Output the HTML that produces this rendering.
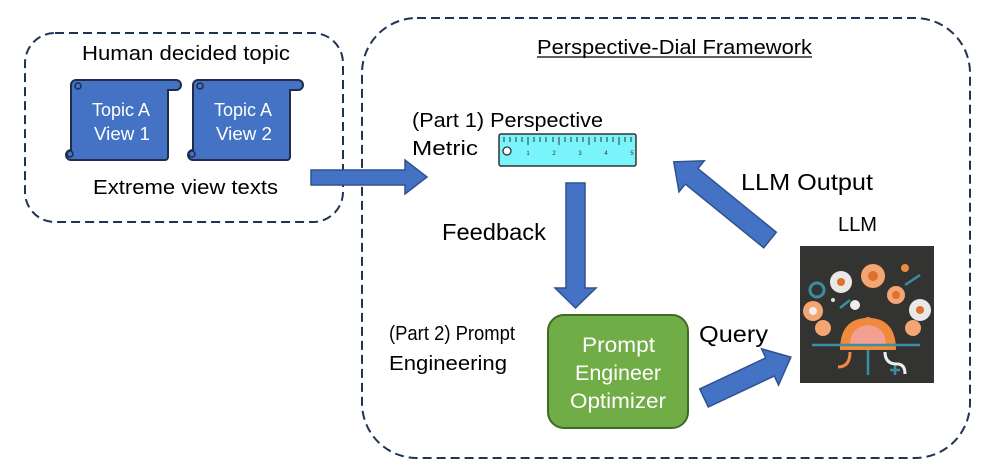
<!DOCTYPE html>
<html><head><meta charset="utf-8"><style>
body{margin:0;background:#fff;}
svg{display:block;font-family:"Liberation Sans",Calibri,sans-serif;}
</style></head><body>
<svg width="987" height="474" viewBox="0 0 987 474">
<rect x="25" y="33" width="318" height="189" rx="30" fill="none" stroke="#1f3354" stroke-width="2" stroke-dasharray="9,5"/>
<rect x="362" y="18" width="608" height="440" rx="55" fill="none" stroke="#1f3354" stroke-width="2" stroke-dasharray="9,5"/>

<g lengthAdjust="spacingAndGlyphs">
<text x="82" y="60" font-size="20" textLength="208" lengthAdjust="spacingAndGlyphs">Human decided topic</text>
<text x="93" y="194" font-size="20" textLength="185" lengthAdjust="spacingAndGlyphs">Extreme view texts</text>
</g>

<g stroke="#1f2d4a" stroke-width="2" fill="#4472c4">
  <path d="M76,80 h100 a5,5 0 0 1 0,10 h-8 v67 a3,3 0 0 1 -3,3 h-94 a5,5 0 0 1 0,-10 v-65 a5,5 0 0 1 5,-5z"/>
  <path d="M198,80 h100 a5,5 0 0 1 0,10 h-8 v67 a3,3 0 0 1 -3,3 h-94 a5,5 0 0 1 0,-10 v-65 a5,5 0 0 1 5,-5z"/>
</g>
<g fill="none" stroke="#1f2d4a" stroke-width="1.5"><circle cx="78" cy="86" r="3"/><circle cx="200" cy="86" r="3"/><circle cx="70" cy="154" r="3"/><circle cx="192" cy="154" r="3"/></g>
<g fill="#fff" font-size="18">
  <text x="92" y="116" textLength="58" lengthAdjust="spacingAndGlyphs">Topic A</text><text x="94" y="140" textLength="56" lengthAdjust="spacingAndGlyphs">View 1</text>
  <text x="214" y="116" textLength="58" lengthAdjust="spacingAndGlyphs">Topic A</text><text x="216" y="140" textLength="56" lengthAdjust="spacingAndGlyphs">View 2</text>
</g>

<path d="M311,170 H405 V160 L427,177 L405,194 V185 H311Z" fill="#4472c4" stroke="#2f528f" stroke-width="1.5"/>

<text x="537" y="54" font-size="20" textLength="275" lengthAdjust="spacingAndGlyphs">Perspective-Dial Framework</text>
<line x1="537" y1="57" x2="812" y2="57" stroke="#000" stroke-width="1.2"/>
<text x="412" y="127" font-size="20" textLength="191" lengthAdjust="spacingAndGlyphs">(Part 1) Perspective</text>
<text x="412" y="155" font-size="20" textLength="66" lengthAdjust="spacingAndGlyphs">Metric</text>

<rect x="499" y="134" width="137" height="32" rx="2" fill="#7af4fb" stroke="#333" stroke-width="1.5"/>
<circle cx="507" cy="151" r="4" fill="#fff" stroke="#333" stroke-width="1.3"/>
<g stroke="#333" stroke-width="1">
<path d="M504,137v5M510,137v5M516,137v5M522,137v5M528,137v8M534,137v5M540,137v5M546,137v5M553,137v5M559,137v8M565,137v5M571,137v5M577,137v5M583,137v5M589,137v8M595,137v5M601,137v5M607,137v5M613,137v5M619,137v8M625,137v5M631,137v5"/>
</g>
<g font-size="6" fill="#333" text-anchor="middle"><text x="528" y="155">1</text><text x="554" y="155">2</text><text x="580" y="155">3</text><text x="606" y="155">4</text><text x="632" y="155">5</text></g>

<text x="442" y="240" font-size="23" textLength="104" lengthAdjust="spacingAndGlyphs">Feedback</text>
<path d="M566,183 H585 V288 H596 L575.5,308 L555,288 H566Z" fill="#4472c4" stroke="#2f528f" stroke-width="1.5"/>

<text x="389" y="340" font-size="20" textLength="126" lengthAdjust="spacingAndGlyphs">(Part 2) Prompt</text>
<text x="389" y="370" font-size="20" textLength="118" lengthAdjust="spacingAndGlyphs">Engineering</text>

<rect x="548" y="315" width="140" height="113" rx="16" fill="#70ad47" stroke="#3f6b27" stroke-width="2"/>
<g fill="#fff" font-size="21">
<text x="582" y="352" textLength="73" lengthAdjust="spacingAndGlyphs">Prompt</text>
<text x="575" y="380" textLength="86" lengthAdjust="spacingAndGlyphs">Engineer</text>
<text x="570" y="408" textLength="96" lengthAdjust="spacingAndGlyphs">Optimizer</text></g>

<text x="699" y="342" font-size="23" textLength="69" lengthAdjust="spacingAndGlyphs">Query</text>
<text x="741" y="190" font-size="23" textLength="132" lengthAdjust="spacingAndGlyphs">LLM Output</text>
<text x="838" y="231" font-size="20" textLength="39" lengthAdjust="spacingAndGlyphs">LLM</text>

<g transform="translate(770,240) rotate(219.1)">
<path d="M0,-10 H101 V-20 L124,0 L101,20 V10 H0Z" fill="#4472c4" stroke="#2f528f" stroke-width="1.5"/></g>
<g transform="translate(704,398) rotate(-25.2)">
<path d="M0,-10 H73 V-20 L96,0 L73,20 V10 H0Z" fill="#4472c4" stroke="#2f528f" stroke-width="1.5"/></g>

<rect x="800" y="246" width="134" height="137" fill="#333331"/>
<g>
<circle cx="873" cy="276" r="12" fill="#f4a672"/><circle cx="873" cy="276" r="5" fill="#e07030"/>
<circle cx="841" cy="282" r="11" fill="#e8e8e8"/><circle cx="841" cy="282" r="4" fill="#e07030"/>
<circle cx="817" cy="290" r="7" fill="none" stroke="#3a8ea0" stroke-width="3"/>
<circle cx="813" cy="311" r="10" fill="#f4a672"/><circle cx="813" cy="311" r="4" fill="#eee"/>
<circle cx="896" cy="295" r="9" fill="#f4a672"/><circle cx="896" cy="295" r="4" fill="#e07030"/>
<circle cx="920" cy="310" r="11" fill="#e8e8e8"/><circle cx="920" cy="310" r="4" fill="#e07030"/>
<circle cx="823" cy="328" r="8" fill="#f4a672"/><circle cx="913" cy="328" r="8" fill="#f4a672"/>
<circle cx="855" cy="305" r="5" fill="#eee"/><circle cx="905" cy="268" r="4" fill="#f08a3c"/><circle cx="833" cy="300" r="2" fill="#ddd"/>
<path d="M840,350 q0,-30 25,-32 q3,-2 6,0 q25,2 25,32z" fill="#f08a3c"/>
<path d="M850,345 q0,-18 18,-20 q18,2 18,20z" fill="#f4a090"/>
<g stroke="#3a8ea0" stroke-width="2.5" fill="none"><path d="M812,345H920M868,350V375M850,300l-10,8M905,285l15,-10M890,370h10M895,365v10"/></g>
<path d="M850,352 q0,15 -12,15" stroke="#f08a3c" stroke-width="3" fill="none"/>
<path d="M885,352 q0,12 12,12 q8,0 8,10" stroke="#eee" stroke-width="3" fill="none"/>
</g>
</svg>
</body></html>
